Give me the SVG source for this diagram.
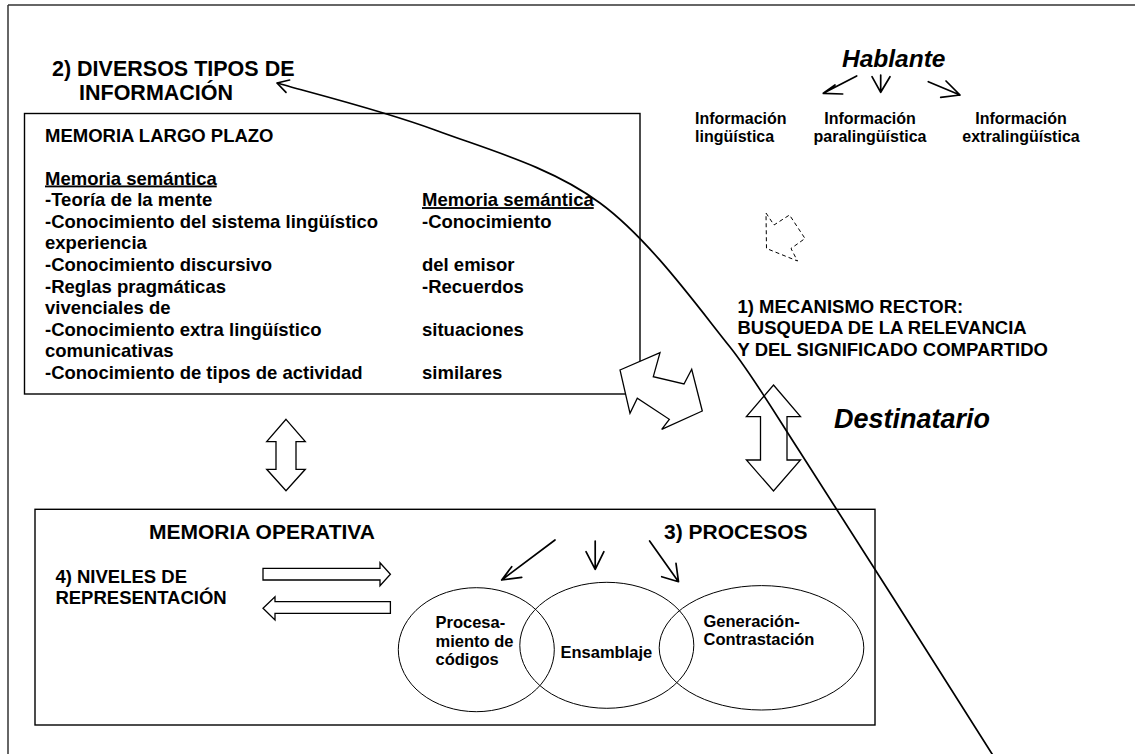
<svg xmlns="http://www.w3.org/2000/svg" width="1135" height="754" viewBox="0 0 1135 754">
<style>
text{font-family:"Liberation Sans",Arial,sans-serif;font-weight:bold;fill:#000}
.b{font-size:18.5px}
.t{font-size:21.5px}
.s{font-size:16px}
.c{font-size:16.5px}
.h{font-size:21px}
.it{font-style:italic}
.u{text-decoration:underline}
.box{fill:none;stroke:#000;stroke-width:1.4}
.ell{fill:none;stroke:#000;stroke-width:1}
.hol{fill:#fff;stroke:#000;stroke-width:1.3;stroke-linejoin:miter}
.ln{fill:none;stroke:#000;stroke-width:1.7;stroke-linecap:round;stroke-linejoin:round}
</style>
<rect width="1135" height="754" fill="#fff"/>
<g id="page-border" fill="none" stroke="#333" stroke-width="1.5">
<line x1="8" y1="5" x2="1135" y2="5"/>
<line x1="8" y1="5" x2="8" y2="754"/>
</g>
<g id="titulo-2">
<text class="t" x="52" y="76">2) DIVERSOS TIPOS DE</text>
<text class="t" x="79" y="100">INFORMACIÓN</text>
</g>
<g id="memoria-largo-plazo">
<rect class="box" x="24.5" y="113.5" width="615.5" height="280.5"/>
<text class="b" x="45" y="141.5">MEMORIA LARGO PLAZO</text>
<text class="b u" x="45" y="184.5">Memoria semántica</text>
<text class="b" x="45" y="206.1">-Teoría de la mente</text>
<text class="b" x="45" y="227.7">-Conocimiento del sistema lingüístico</text>
<text class="b" x="45" y="249.3">experiencia</text>
<text class="b" x="45" y="270.9">-Conocimiento discursivo</text>
<text class="b" x="45" y="292.5">-Reglas pragmáticas</text>
<text class="b" x="45" y="314.1">vivenciales de</text>
<text class="b" x="45" y="335.7">-Conocimiento extra lingüístico</text>
<text class="b" x="45" y="357.3">comunicativas</text>
<text class="b" x="45" y="378.9">-Conocimiento de tipos de actividad</text>
<text class="b u" x="422" y="206.1">Memoria semántica</text>
<text class="b" x="422" y="227.7">-Conocimiento</text>
<text class="b" x="422" y="270.9">del emisor</text>
<text class="b" x="422" y="292.5">-Recuerdos</text>
<text class="b" x="422" y="335.7">situaciones</text>
<text class="b" x="422" y="378.9">similares</text>
</g>
<g id="hablante">
<text class="it" x="842" y="67" font-size="24.5px">Hablante</text>
</g>
<g id="info-linguistica">
<text class="s" x="695" y="124">Información</text>
<text class="s" x="695" y="141.7">lingüística</text>
</g>
<g id="info-paralinguistica">
<text class="s" x="870" y="124" text-anchor="middle">Información</text>
<text class="s" x="870" y="141.7" text-anchor="middle">paralingüística</text>
</g>
<g id="info-extralinguistica">
<text class="s" x="1021" y="124" text-anchor="middle">Información</text>
<text class="s" x="1021" y="141.7" text-anchor="middle">extralingüística</text>
</g>
<g id="mecanismo-rector">
<text class="b" x="737.5" y="312.7">1) MECANISMO RECTOR:</text>
<text class="b" x="737.5" y="334.3">BUSQUEDA DE LA RELEVANCIA</text>
<text class="b" x="737.5" y="355.5">Y DEL SIGNIFICADO COMPARTIDO</text>
</g>
<g id="destinatario">
<text class="it" x="834" y="428.3" font-size="27px">Destinatario</text>
</g>
<g id="memoria-operativa">
<rect class="box" x="35" y="509.3" width="840" height="215.7"/>
<text class="h" x="149" y="539.3">MEMORIA OPERATIVA</text>
<text class="h" x="664" y="539.3">3) PROCESOS</text>
<text class="b" x="55.4" y="583.3">4) NIVELES DE</text>
<text class="b" x="55.4" y="604.3">REPRESENTACIÓN</text>
</g>
<g id="procesamiento">
<ellipse class="ell" cx="476.3" cy="649.7" rx="78" ry="62"/>
<text class="c" x="435.5" y="628.3">Procesa-</text>
<text class="c" x="435.5" y="646.7">miento de</text>
<text class="c" x="435.5" y="665">códigos</text>
</g>
<g id="ensamblaje">
<ellipse class="ell" cx="606.8" cy="645.3" rx="87" ry="63"/>
<text class="c" x="560.5" y="658.3">Ensamblaje</text>
</g>
<g id="generacion">
<ellipse class="ell" cx="761.5" cy="647.8" rx="102.3" ry="62.2"/>
<text class="c" x="703.5" y="626.7">Generación-</text>
<text class="c" x="703.5" y="645">Contrastación</text>
</g>
<g id="connectors">
<polygon points="766,213 774,225 789.5,215 805,238.5 791,248.5 797.5,261 766.5,248.5" fill="none" stroke="#000" stroke-width="1" stroke-dasharray="4,3"/>
<path class="ln" d="M856.7,76 L823.3,93.3 M835,85 L823.3,93.3 L842.7,94"/>
<path class="ln" d="M880.7,75 L880.7,92.3 M872,76.7 L880.7,92.3 L890,76.7"/>
<path class="ln" d="M928.3,81.7 L960,95 M946,81 L960,95 L940.7,97.3"/>
<polygon class="hol" points="620,370 660,352.7 653.3,376.7 684,384 691.7,369.3 702.3,411 661.7,429.3 669.3,419.3 637.3,398.3 630,413.3"/>
<polygon class="hol" points="286,419.3 305.3,441.7 296,441.7 296,469.3 305.3,469.3 286,490.7 266.7,469.3 276,469.3 276,441.7 266.7,441.7"/>
<polygon class="hol" points="773.5,385 800.5,416.7 787,416.7 787,460 800.5,460 773.5,491 746.4,460 760.5,460 760.5,416.7 746.4,416.7"/>
<polygon class="hol" points="263,568.3 380,568.3 380,562.7 390.4,574.3 380,585.7 380,580 263,580"/>
<polygon class="hol" points="390.4,601.7 275,601.7 275,596.7 263,608.3 275,620 275,613.3 390.4,613.3"/>
<path class="ln" d="M555,540 L501.7,580 M511.7,566.7 L501.7,580 L521.7,577.3"/>
<path class="ln" d="M595.2,541 L595.2,569.3 M586,551.7 L595.2,569.3 L603.9,551.7"/>
<path class="ln" d="M649.6,541 L678.5,581.7 M676,563.3 L678.5,581.7 L661.7,576.7"/>
<path fill="none" stroke="#000" stroke-width="1.7" d="M277,83 C303.3,90.8 381.2,110 435,130 C488.8,150 551.3,166.8 600,203 C649.2,239.2 696.7,305.5 730,347 C753,376 775.7,414.7 800,452 C844.2,519.8 960,703.7 994,757"/>
<path class="ln" stroke-width="1.4" d="M289.6,80 L277,83 L286,92.4"/>
</g>
</svg>
